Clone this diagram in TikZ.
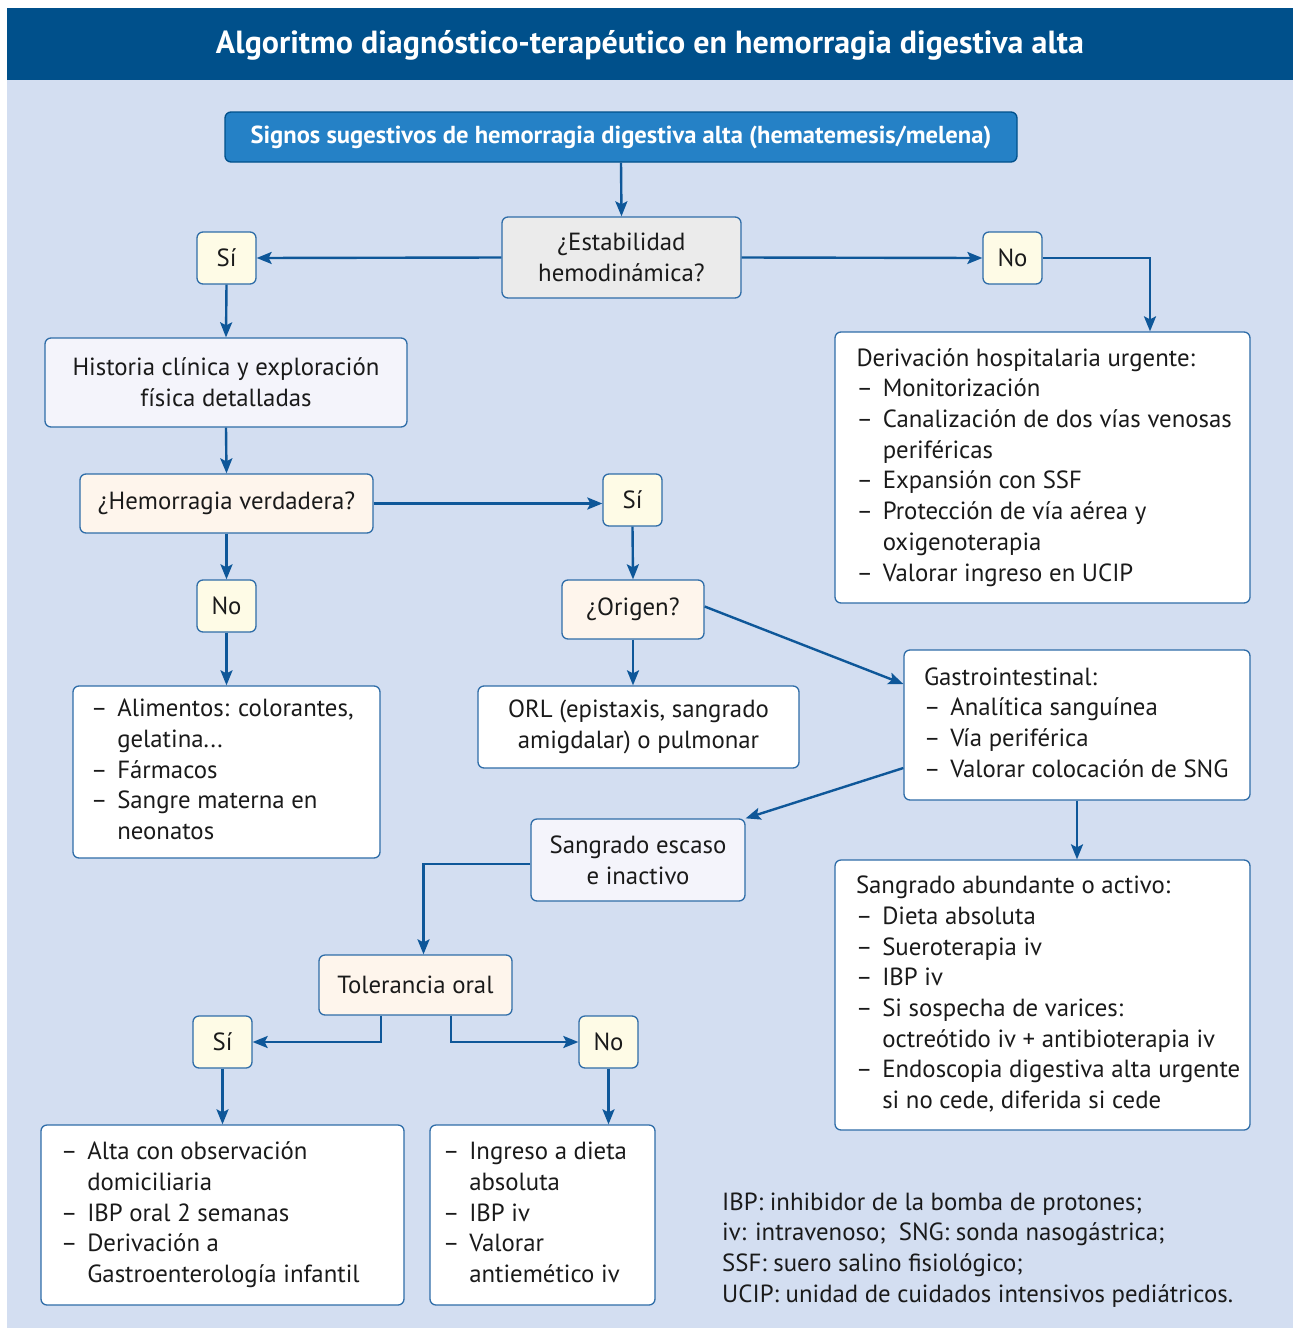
\documentclass[tikz,border=0pt]{standalone}
\usepackage{fontspec}
\setmainfont{PT Sans}
\usetikzlibrary{arrows.meta,calc}
\definecolor{bandblue}{HTML}{00508B}
\definecolor{bgblue}{HTML}{D3DEF1}
\definecolor{topfill}{HTML}{2581C6}
\definecolor{linec}{HTML}{0E5799}
\definecolor{bordc}{HTML}{2F6DA8}
\definecolor{greyf}{HTML}{EBEBEB}
\definecolor{yelf}{HTML}{FEFBE6}
\definecolor{peachf}{HTML}{FEF5EC}
\definecolor{lavf}{HTML}{F4F4FB}
\definecolor{txt}{HTML}{1A1A1A}
\newcommand\bodyfont{\fontsize{24.8}{30.7}\selectfont}
\newcommand\dd{–\hspace{0.4em}}
\newcommand\ind{\phantom{–\hspace{0.4em}}}
\newcommand\lbox[2]{\makebox[#1][l]{\begin{tabular}{@{}l@{}}#2\end{tabular}}}
\tikzset{
  box/.style={draw=bordc, line width=1.3pt, rounded corners=6pt, inner sep=0pt,
    font=\bodyfont, text=txt, align=center},
  lst/.style={draw=bordc, line width=1.3pt, rounded corners=6pt, inner ysep=0pt,
    font=\bodyfont, text=txt, fill=white},
  yesno/.style={box, fill=yelf, minimum width=59pt, minimum height=52pt},
  conn/.style={draw=linec, line width=2.4pt, -{Stealth[length=15pt,width=12pt,inset=3pt]}}
}
\begin{document}
\begin{tikzpicture}[x=1pt,y=-1pt]
\useasboundingbox (0,0) rectangle (1293,1328);
\fill[bgblue] (7,80) rectangle (1293,1328);
\fill[bandblue] (7,8) rectangle (1293,80);
\node[text=white, font=\fontsize{32}{36}\selectfont\bfseries] (title) at (650,45)
  {Algoritmo diagnóstico-terapéutico en hemorragia digestiva alta};

\node[box, fill=topfill, draw=bandblue, text=white, font=\fontsize{24.6}{28}\selectfont\bfseries,
  minimum width=792pt, minimum height=50pt] (top) at (621,137)
  {Signos sugestivos de hemorragia digestiva alta (hematemesis/melena)};
\node[box, fill=greyf, minimum width=239pt, minimum height=81pt] (estab) at (621.5,257.5)
  {¿Estabilidad\\hemodinámica?};
\node[yesno] (si1) at (226.5,258) {Sí};
\node[yesno] (no1) at (1012.5,258) {No};
\node[box, fill=lavf, minimum width=362pt, minimum height=89pt] (hist) at (226,382.5)
  {Historia clínica y exploración\\física detalladas};
\node[lst, inner xsep=21.5pt, minimum height=271pt] (deriv) at (1042.5,467.5)
  {\lbox{372pt}{Derivación hospitalaria urgente:\\
   \dd Monitorización\\
   \dd Canalización de dos vías venosas\\
   \ind periféricas\\
   \dd Expansión con SSF\\
   \dd Protección de vía aérea y\\
   \ind oxigenoterapia\\
   \dd Valorar ingreso en UCIP}};
\node[box, fill=peachf, minimum width=293pt, minimum height=59pt] (hemo) at (226.5,503.5)
  {¿Hemorragia verdadera?};
\node[yesno] (si2) at (632.5,500) {Sí};
\node[yesno] (no2) at (226.5,606) {No};
\node[box, fill=peachf, minimum width=142pt, minimum height=59pt] (orig) at (633,609.5)
  {¿Origen?};
\node[lst, inner xsep=18pt, minimum height=172pt] (alim) at (226.5,772)
  {\lbox{271pt}{\dd Alimentos: colorantes,\\
   \ind gelatina...\\
   \dd Fármacos\\
   \dd Sangre materna en\\
   \ind neonatos}};
\node[box, fill=white, minimum width=321pt, minimum height=82pt] (orl) at (638.5,727)
  {ORL (epistaxis, sangrado\\amigdalar) o pulmonar};
\node[lst, inner xsep=20pt, minimum height=150pt] (gastro) at (1077,725)
  {\lbox{306pt}{Gastrointestinal:\\
   \dd Analítica sanguínea\\
   \dd Vía periférica\\
   \dd Valorar colocación de SNG}};
\node[box, fill=lavf, minimum width=214pt, minimum height=82pt] (escaso) at (638,860)
  {Sangrado escaso\\e inactivo};
\node[lst, inner xsep=21pt, minimum height=270pt] (abund) at (1042.5,995)
  {\lbox{373pt}{Sangrado abundante o activo:\\
   \dd Dieta absoluta\\
   \dd Sueroterapia iv\\
   \dd IBP iv\\
   \dd Si sospecha de varices:\\
   \ind octreótido iv + antibioterapia iv\\
   \dd Endoscopia digestiva alta urgente\\
   \ind si no cede, diferida si cede}};
\node[box, fill=peachf, minimum width=193pt, minimum height=60pt] (toler) at (415.5,985)
  {Tolerancia oral};
\node[yesno] (si3) at (222.5,1042) {Sí};
\node[yesno] (no3) at (608.5,1042) {No};
\node[lst, inner xsep=20pt, minimum height=180pt] (alta) at (222.5,1215)
  {\lbox{323pt}{\dd Alta con observación\\
   \ind domiciliaria\\
   \dd IBP oral 2 semanas\\
   \dd Derivación a\\
   \ind Gastroenterología infantil}};
\node[lst, inner xsep=13pt, minimum height=180pt] (ingreso) at (542.5,1215)
  {\lbox{199pt}{\dd Ingreso a dieta\\
   \ind absoluta\\
   \dd IBP iv\\
   \dd Valorar\\
   \ind antiemético iv}};
\node[anchor=west, font=\bodyfont, text=txt, inner sep=0pt] (legend) at (722,1250)
  {\begin{tabular}{@{}l@{}}IBP: inhibidor de la bomba de protones;\\
   iv: intravenoso;\ \ SNG: sonda nasogástrica;\\
   SSF: suero salino fisiológico;\\
   UCIP: unidad de cuidados intensivos pediátricos.\end{tabular}};

% connectors
\draw[conn] (top.south) -- (estab.north);
\draw[conn] (estab.west) -- (si1.east);
\draw[conn] (estab.east) -- (no1.west);
\draw[conn] (no1.east) -| ([xshift=107.5pt]deriv.north);
\draw[conn] (si1.south) -- (hist.north);
\draw[conn] (hist.south) -- (hemo.north);
\draw[conn] (hemo.east) -- (si2.west |- hemo.east);
\draw[conn] (hemo.south) -- (no2.north);
\draw[conn] (no2.south) -- (alim.north);
\draw[conn] (si2.south) -- (orig.north);
\draw[conn] (orig.south) -- (orig.south |- orl.north);
\draw[conn] ([yshift=3pt]orig.east) -- ([yshift=41pt]gastro.west);
\draw[conn] ([yshift=-43pt]gastro.west) -- (escaso.north east);
\draw[conn] (gastro.south) -- (gastro.south |- abund.north);
\draw[conn] ([yshift=-4pt]escaso.west) -| ([xshift=8pt]toler.north);
\draw[conn] ([xshift=-34.5pt]toler.south) |- (si3.east);
\draw[conn] ([xshift=35.5pt]toler.south) |- (no3.west);
\draw[conn] (si3.south) -- (si3.south |- alta.north);
\draw[conn] (no3.south) -- (no3.south |- ingreso.north);
\end{tikzpicture}
\end{document}
